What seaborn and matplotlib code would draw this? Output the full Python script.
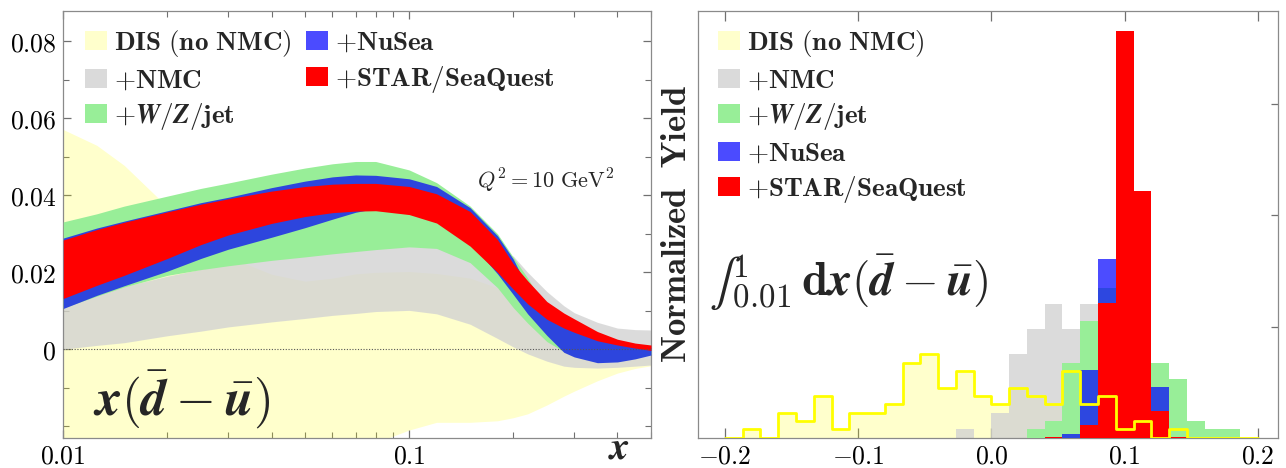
import numpy as np
import pandas as pd
import matplotlib
matplotlib.use("Agg")
import matplotlib.pyplot as plt
from matplotlib.patches import Patch
from matplotlib.ticker import FixedLocator, FixedFormatter, MultipleLocator, NullFormatter, LogLocator
import seaborn as sns

# ---------------------------------------------------------------- data
# x(dbar - ubar) uncertainty bands at Q^2 = 10 GeV^2
x_grid = [0.01, 0.0125, 0.015, 0.02, 0.025, 0.03, 0.04, 0.05, 0.06, 0.07, 0.08,
          0.1, 0.12, 0.15, 0.18, 0.2, 0.22, 0.25, 0.28, 0.3, 0.35, 0.4, 0.45, 0.5]

dis_lo = [-0.045, -0.043, -0.041, -0.038, -0.036, -0.034, -0.031, -0.029, -0.027, -0.0255, -0.0243,
          -0.0210, -0.0190, -0.0190, -0.0186, -0.0178, -0.0168, -0.0145, -0.0122, -0.0109, -0.0082,
          -0.0062, -0.0050, -0.0043]
dis_hi = [0.0571, 0.0530, 0.0478, 0.0370, 0.0290, 0.0240, 0.0195, 0.0177, 0.0185, 0.0196, 0.0200,
          0.0202, 0.0197, 0.0185, 0.0160, 0.0138, 0.0112, 0.0072, 0.0040, 0.0025, 0.0005,
          -0.0010, -0.0020, -0.0025]

nmc_lo = [0.0, 0.0010, 0.0017, 0.0035, 0.0047, 0.0058, 0.0071, 0.0080, 0.0088, 0.0093, 0.0098,
          0.0101, 0.0092, 0.0065, 0.0028, 0.0006, -0.0012, -0.0031, -0.0044, -0.0047, -0.0049,
          -0.0047, -0.0044, -0.0041]
nmc_hi = [0.0125, 0.0145, 0.0163, 0.0190, 0.0208, 0.0222, 0.0238, 0.0248, 0.0255, 0.0260, 0.0264,
          0.0267, 0.0265, 0.0262, 0.0255, 0.0242, 0.0200, 0.0150, 0.0113, 0.0095, 0.0070,
          0.0055, 0.0051, 0.0050]

wzj_lo = [0.0108, 0.0138, 0.0162, 0.0192, 0.0207, 0.0217, 0.0231, 0.0240, 0.0248, 0.0254, 0.0259,
          0.0266, 0.0262, 0.0225, 0.0160, 0.0108, 0.0068, 0.0020, -0.0006, -0.0017, -0.0032,
          -0.0030, -0.0022, -0.0013]
wzj_hi = [0.0331, 0.0352, 0.0372, 0.0398, 0.0418, 0.0432, 0.0455, 0.0471, 0.0482, 0.0488, 0.0488,
          0.0466, 0.0433, 0.0372, 0.0300, 0.0239, 0.0185, 0.0100, 0.0060, 0.0045, 0.0020,
          0.0010, 0.0005, 0.0003]

nusea_lo = [0.0106, 0.0140, 0.0165, 0.0203, 0.0236, 0.0260, 0.0291, 0.0316, 0.0338, 0.0356, 0.0366,
            0.0358, 0.0335, 0.0278, 0.0196, 0.0142, 0.0092, 0.0036, -0.0008, -0.0020, -0.0035,
            -0.0033, -0.0025, -0.0015]
nusea_hi = [0.0289, 0.0315, 0.0333, 0.0360, 0.0381, 0.0395, 0.0420, 0.0437, 0.0448, 0.0453, 0.0452,
            0.0443, 0.0423, 0.0368, 0.0295, 0.0234, 0.0160, 0.0110, 0.0075, 0.0060, 0.0030,
            0.0015, 0.0008, 0.0005]

star_lo = [0.0132, 0.0166, 0.0192, 0.0236, 0.0272, 0.0297, 0.0327, 0.0345, 0.0355, 0.0359, 0.0360,
           0.0350, 0.0328, 0.0268, 0.0200, 0.0156, 0.0118, 0.0078, 0.0055, 0.0044, 0.0022,
           0.0011, 0.0003, -0.0003]
star_hi = [0.0284, 0.0311, 0.0330, 0.0357, 0.0377, 0.0391, 0.0411, 0.0423, 0.0429, 0.0431, 0.0431,
           0.0423, 0.0404, 0.0358, 0.0285, 0.0222, 0.0178, 0.0124, 0.0094, 0.0079, 0.0046,
           0.0026, 0.0016, 0.0011]

# distribution of the integral over replicas (normalized yield per bin)
bin_edges = list(np.linspace(-0.2, 0.2, 31))
dis_yield = [0, 0.75, 0, 2.25, 1.5, 3.75, 0.75, 2.25, 2.25, 3.0, 6.75, 7.5, 4.5, 6.0, 3.75,
             3.0, 4.5, 3.75, 3.0, 6.0, 3.0, 3.75, 0.75, 1.5, 0, 0.75, 0, 0, 0, 0]
nmc_yield = [0, 0, 0, 0, 0, 0, 0, 0, 0, 0, 0, 0, 0, 0.75, 0,
             2.25, 7.5, 9.75, 12.0, 9.75, 12.0, 9.0, 6.75, 3.75, 1.5, 0, 0, 0, 0, 0]
wzj_yield = [0, 0, 0, 0, 0, 0, 0, 0, 0, 0, 0, 0, 0, 0, 0,
             0, 0, 0.75, 1.5, 6.75, 10.5, 13.5, 16.5, 10.5, 6.75, 5.25, 1.5, 0.75, 0.75, 0]
nusea_yield = [0, 0, 0, 0, 0, 0, 0, 0, 0, 0, 0, 0, 0, 0, 0,
               0, 0, 0, 0, 0.35, 6.1, 16.1, 28.0, 20.0, 4.55, 0, 0, 0, 0, 0]
star_yield = [0, 0, 0, 0, 0, 0, 0, 0, 0, 0, 0, 0, 0, 0, 0,
              0, 0, 0, 0.1, 0, 1.14, 12.1, 36.6, 22.2, 2.4, 0.1, 0, 0, 0, 0]

labels = [r"$\mathbf{DIS\ (no\ NMC)}$",
          r"$\mathbf{+NMC}$",
          r"$\mathbf{+}\mathbfit{W}\mathbf{/}\mathbfit{Z}\mathbf{/jet}$",
          r"$\mathbf{+NuSea}$",
          r"$\mathbf{+STAR/SeaQuest}$"]

# ---------------------------------------------------------------- style
sns.set_theme(style="ticks")
plt.rcParams.update({
    "font.family": ["DejaVu Serif"],
    "mathtext.fontset": "cm",
    "axes.edgecolor": "#8a8a8a",
    "axes.linewidth": 0.9,
    "xtick.color": "#707070",
    "ytick.color": "#707070",
    "xtick.labelcolor": "black",
    "ytick.labelcolor": "black",
})

c_dis = "#ffff00"
c_nmc = "#d3d3d3"
c_wzj = "#98ee98"
c_nusea_band = "#2d45dd"
c_nusea = "#0000ff"
c_star = "#ff0000"

fig = plt.figure(figsize=(12.86, 4.68), dpi=100)
ax1 = fig.add_axes([0.0492, 0.0647, 0.4570, 0.9125])
ax2 = fig.add_axes([0.5425, 0.0647, 0.4512, 0.9125])

# ---------------------------------------------------------------- left panel
ax1.fill_between(x_grid, dis_lo, dis_hi, color=c_dis, alpha=0.2, lw=0, zorder=1)
ax1.fill_between(x_grid, nmc_lo, nmc_hi, color=c_nmc, alpha=0.8, lw=0, zorder=2)
ax1.fill_between(x_grid, wzj_lo, wzj_hi, color=c_wzj, lw=0, zorder=3)
ax1.fill_between(x_grid, nusea_lo, nusea_hi, color=c_nusea_band, lw=0, zorder=4)
ax1.fill_between(x_grid, star_lo, star_hi, color=c_star, lw=0, zorder=5)
ax1.axhline(0, color="#555555", lw=0.8, ls=(0, (1, 1.5)), zorder=6)

ax1.set_xscale("log")
ax1.set_xlim(0.01, 0.5)
ax1.set_ylim(-0.023, 0.088)
ax1.xaxis.set_major_locator(FixedLocator([0.01, 0.1]))
ax1.xaxis.set_major_formatter(FixedFormatter([r"$0.01$", r"$0.1$"]))
ax1.xaxis.set_minor_locator(LogLocator(base=10, subs=np.arange(2, 10)))
ax1.xaxis.set_minor_formatter(NullFormatter())
ax1.yaxis.set_major_locator(FixedLocator([0, 0.02, 0.04, 0.06, 0.08]))
ax1.yaxis.set_major_formatter(FixedFormatter([r"$0$", r"$0.02$", r"$0.04$", r"$0.06$", r"$0.08$"]))
ax1.yaxis.set_minor_locator(MultipleLocator(0.01))
ax1.tick_params(which="both", direction="in", top=True, right=True, labelsize=18.5)
ax1.tick_params(which="major", length=6, width=0.9)
ax1.tick_params(which="minor", length=4, width=0.8)
ax1.tick_params(axis="y", pad=5)
ax1.tick_params(axis="x", pad=4)

handles = [Patch(facecolor="#ffffcc", edgecolor="none"),
           Patch(facecolor="#dadada", edgecolor="none"),
           Patch(facecolor=c_wzj, edgecolor="none"),
           Patch(facecolor="#4b4bff", edgecolor="none"),
           Patch(facecolor=c_star, edgecolor="none")]

leg_kw = dict(frameon=False, fontsize=19.5, handlelength=0.8, handleheight=0.7,
              handletextpad=0.25, labelspacing=0.28, borderpad=0.2, borderaxespad=0)
ax1.legend(handles, labels, ncol=2, loc="upper left", bbox_to_anchor=(0.028, 0.972),
           columnspacing=0.55, **leg_kw)

ax1.text(0.82, 0.60, r"$Q^2 = 10\ \mathrm{GeV}^2$", transform=ax1.transAxes,
         ha="center", va="center", fontsize=16, zorder=7)
ax1.text(0.05, 0.09, r"$\mathbfit{x}(\bar{\mathbfit{d}}-\bar{\mathbfit{u}})$", transform=ax1.transAxes,
         ha="left", va="center", fontsize=37, zorder=7)
ax1.text(0.946, -0.068, r"$\mathbfit{x}$", transform=ax1.transAxes,
         ha="center", va="bottom", fontsize=28, clip_on=False)

# ---------------------------------------------------------------- right panel
centers = [0.5 * (a + b) for a, b in zip(bin_edges[:-1], bin_edges[1:])]
hist_df = pd.DataFrame({
    "value": centers,
    "dis": dis_yield,
    "nmc": nmc_yield,
    "wzj": wzj_yield,
    "nusea": nusea_yield,
    "star": star_yield,
})

layers = [("dis", c_dis, 0.2), ("nmc", c_nmc, 0.8), ("wzj", c_wzj, 1.0),
          ("nusea", c_nusea, 0.7), ("star", c_star, 1.0)]
for z, (col, colr, a) in enumerate(layers, start=1):
    sns.histplot(data=hist_df, x="value", weights=col, bins=bin_edges, stat="count",
                 element="step", fill=True, color=colr, alpha=a, linewidth=0,
                 zorder=z, ax=ax2)
sns.histplot(data=hist_df, x="value", weights="dis", bins=bin_edges, stat="count",
             element="step", fill=False, color=c_dis, linewidth=2.0, zorder=6, ax=ax2)

ax2.set_xlim(-0.2205, 0.215)
ax2.set_ylim(0, 38.4)
ax2.set_xlabel("")
ax2.set_ylabel("")
ax2.xaxis.set_major_locator(FixedLocator([-0.2, -0.1, 0.0, 0.1, 0.2]))
ax2.xaxis.set_major_formatter(FixedFormatter([r"$-0.2$", r"$-0.1$", r"$0.0$", r"$0.1$", r"$0.2$"]))
ax2.yaxis.set_major_locator(FixedLocator([10, 20, 30]))
ax2.tick_params(which="both", direction="in", top=True, bottom=True, left=False, right=True,
                labelleft=False, labelsize=18.5)
ax2.tick_params(axis="x", length=7, width=0.9, pad=4)
ax2.tick_params(axis="y", length=5, width=0.9)

ax2.legend(handles, labels, loc="upper left", bbox_to_anchor=(0.026, 0.972), **leg_kw)

ax2.text(-0.037, 0.5, r"$\mathbf{Normalized\ \ Yield}$", transform=ax2.transAxes,
         rotation=90, ha="center", va="center", fontsize=25)
ax2.text(0.019, 0.365,
         "$\u222b_{\\mathbf{0.01}}^{\\mathbf{1}}\\,\\mathbf{d}\\mathbfit{x}"
         "(\\bar{\\mathbfit{d}}-\\bar{\\mathbfit{u}})$",
         transform=ax2.transAxes, ha="left", va="center", fontsize=34, zorder=7)

fig.savefig("out.png", dpi=100)
